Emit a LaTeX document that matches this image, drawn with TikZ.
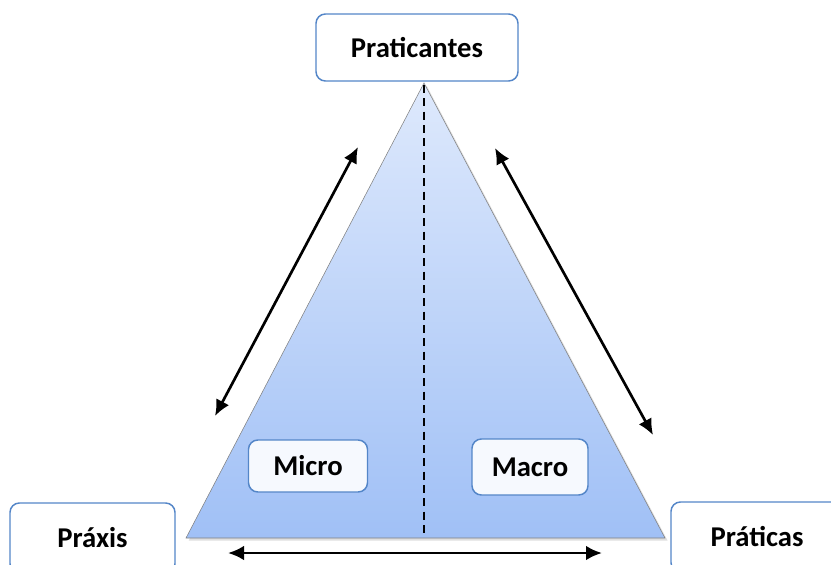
\documentclass[tikz,border=0pt]{standalone}
\usepackage{fontspec}
\setmainfont{Carlito}
\usetikzlibrary{arrows.meta,shadows}
\definecolor{boxblue}{RGB}{84, 134, 200}
\definecolor{skytop}{RGB}{222, 233, 252}
\definecolor{skybottom}{RGB}{160, 192, 246}
\definecolor{paleblue}{RGB}{246, 249, 254}

\tikzset{
    labelbox/.style = {draw=boxblue, line width=1.1pt, fill=white, rounded corners=7pt,
                       font=\fontsize{21.5}{25}\selectfont\bfseries, inner sep=0pt},
    innerbox/.style = {labelbox, fill=paleblue},
    twoway/.style   = {{Latex[length=12pt,width=11pt]}-{Latex[length=12pt,width=11pt]}, line width=2pt}
}

\begin{document}
\begin{tikzpicture}[x=0.75pt, y=-0.75pt]
            \useasboundingbox (0,0) rectangle (831,564);
            \clip (0,0) rectangle (831,564);
            % triangle
            \shade[top color=skytop, bottom color=skybottom, draw=gray, thin,
                   drop shadow={shadow xshift=2pt, shadow yshift=-2pt, opacity=0.25}]
                   (424,83) -- (665,538) -- (186,538) -- cycle;
            \draw[dashed, thick, dash pattern=on 6pt off 4pt] (424,85) -- (424,537);
            % corner boxes
            \node[labelbox, minimum width=202*0.75pt, minimum height=67*0.75pt] (prat) at (417,47.5) {Praticantes};
            \node[labelbox, minimum width=165*0.75pt, minimum height=70*0.75pt] (praxis) at (92.5,538) {Práxis};
            \node[labelbox, minimum width=172*0.75pt, minimum height=70*0.75pt] (praticas) at (757,537) {Práticas};
            \node[innerbox, minimum width=119*0.75pt, minimum height=52*0.75pt] (micro) at (308,466) {Micro};
            \node[innerbox, minimum width=116*0.75pt, minimum height=56*0.75pt] (macro) at (530,467) {Macro};
            % arrow ends
            \coordinate (lu) at (358,147);
            \coordinate (ll) at (215,416);
            \coordinate (ru) at (495,148);
            \coordinate (rl) at (653,435);
            \coordinate (bl) at (228,553);
            \coordinate (br) at (602,553);
            \draw[twoway] (ll) -- (lu);
            \draw[twoway] (ru) -- (rl);
            \draw[twoway] (bl) -- (br);
\end{tikzpicture}
\end{document}
